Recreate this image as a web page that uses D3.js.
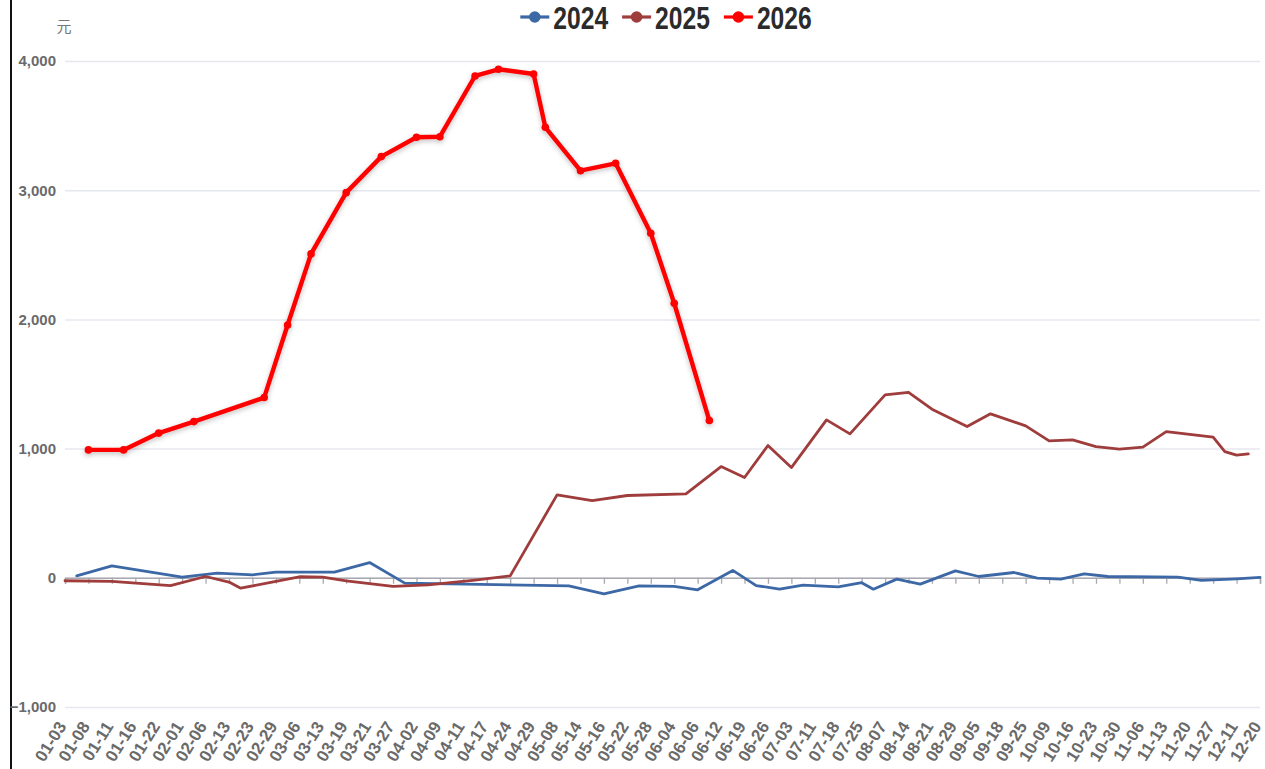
<!DOCTYPE html>
<html>
<head>
<meta charset="utf-8">
<script src="https://cdn.jsdelivr.net/npm/d3@7/dist/d3.min.js"></script>
<style>
    html, body { margin: 0; padding: 0; background: #fff; overflow: hidden; }
    svg { display: block; font-family: "Liberation Sans", Arial, sans-serif; }
</style>
</head>
<body>
<div id="chart"></div>
<script>
// Dates shown on the x axis; the axis has one unlabelled slot between each pair
const tickLabels = [
    "01-03", "01-08", "01-11", "01-16", "01-22", "02-01", "02-06", "02-13", "02-23", "02-29",
    "03-06", "03-13", "03-19", "03-21", "03-27", "04-02", "04-09", "04-11", "04-17", "04-24",
    "04-29", "05-08", "05-14", "05-16", "05-22", "05-28", "06-04", "06-06", "06-12", "06-19",
    "06-26", "07-03", "07-11", "07-18", "07-25", "08-07", "08-14", "08-21", "08-29", "09-05",
    "09-18", "09-25", "10-09", "10-16", "10-23", "10-30", "11-06", "11-13", "11-20", "11-27",
    "12-11", "12-20"
];
const slotCount = tickLabels.length * 2 - 1;

const seriesNames = ["2024", "2025", "2026"];
const yTicks = [-1000, 0, 1000, 2000, 3000, 4000];
const unitLabel = "元";

// [axis slot, value in 元]
const values2024 = [
    [1, 15], [4, 93], [10, 5], [13, 36], [16, 23], [18, 44], [23, 44], [26, 118], [29, -41],
    [43, -62], [46, -124], [49, -62], [52, -67], [54, -93], [57, 57], [59, -60], [61, -88],
    [63, -57], [66, -70], [68, -38], [69, -88], [71, -10], [73, -49], [76, 54], [78, 10],
    [81, 41], [83, -3], [85, -10], [87, 31], [89, 10], [95, 5], [97, -20], [100, -8], [102, 3]
];
const values2025 = [
    [0, -23], [4, -28], [9, -60], [12, 10], [14, -33], [15, -80], [18, -28], [20, 8], [22, 5],
    [24, -23], [28, -67], [31, -54], [35, -18], [38, 15], [42, 642], [45, 598], [48, 637],
    [53, 650], [56, 861], [58, 776], [60, 1024], [62, 853], [65, 1222], [67, 1114], [70, 1416],
    [72, 1436], [74, 1305], [77, 1171], [79, 1269], [82, 1176], [84, 1060], [86, 1068],
    [88, 1016], [90, 996], [92, 1011], [94, 1132], [96, 1110], [98, 1088], [99, 977],
    [100, 949], [101, 959]
];
const values2026 = [
    [2, 990], [5, 990], [8, 1120], [11, 1209], [17, 1395], [19, 1957], [21, 2507], [24, 2981],
    [27, 3260], [30, 3410], [32, 3414], [35, 3884], [37, 3936], [40, 3899], [41, 3487],
    [44, 3151], [47, 3208], [50, 2667], [52, 2125], [55, 1217]
];

const series = [
    { name: seriesNames[0], values: values2024, color: "#3d68a6", width: 2.8, marker: false },
    { name: seriesNames[1], values: values2025, color: "#9e3d3b", width: 2.8, marker: false },
    { name: seriesNames[2], values: values2026, color: "#ff0000", width: 4.4, marker: true }
];

const width = 1265, height = 769;
const plot = { left: 65, right: 1260, top: 61, bottom: 707 };

const svg = d3.select("#chart").append("svg")
    .attr("width", width)
    .attr("height", height);

const defs = svg.append("defs");
defs.append("filter")
    .attr("id", "glow")
    .attr("x", "-10%").attr("y", "-10%").attr("width", "120%").attr("height", "120%")
    .append("feDropShadow")
    .attr("dx", 0).attr("dy", 2).attr("stdDeviation", 2.5)
    .attr("flood-color", "#000").attr("flood-opacity", 0.25);

const x = d3.scaleLinear().domain([0, slotCount - 1]).range([plot.left, plot.right]);
const y = d3.scaleLinear().domain([-1000, 4000]).range([plot.bottom, plot.top]);

// frame edge on the left
svg.append("line")
    .attr("x1", 11).attr("x2", 11).attr("y1", 0).attr("y2", height)
    .attr("stroke", "#111").attr("stroke-width", 2);

// horizontal grid + y labels
const yAxis = d3.axisLeft(y)
    .tickValues(yTicks)
    .tickSize(-(plot.right - plot.left))
    .tickPadding(9)
    .tickFormat(d3.format(","));

svg.append("g")
    .attr("transform", `translate(${plot.left},0)`)
    .call(yAxis)
    .call(g => g.select(".domain").remove())
    .call(g => g.selectAll(".tick line").attr("stroke", "#e6e8f0").attr("stroke-width", 1.5))
    .call(g => g.selectAll(".tick text")
        .attr("fill", "#6a6a6a")
        .attr("font-size", 15)
        .attr("font-weight", "bold")
        .attr("x", -9));

svg.append("text")
    .attr("x", 64).attr("y", 32)
    .attr("text-anchor", "middle")
    .attr("fill", "#777")
    .attr("font-size", 15)
    .attr("font-family", "'Noto Sans CJK SC', sans-serif")
    .text(unitLabel);

// axis line at zero with ticks on labelled slots
const labelSlots = tickLabels.map((d, i) => i * 2);
const xAxis = d3.axisBottom(x)
    .tickValues(labelSlots)
    .tickSize(6)
    .tickFormat("");

svg.append("g")
    .attr("transform", `translate(0,${y(0)})`)
    .call(xAxis)
    .call(g => g.select(".domain").attr("stroke", "#a8a8b0").attr("stroke-width", 1.5))
    .call(g => g.selectAll(".tick line").attr("stroke", "#a8a8b0").attr("stroke-width", 1.3));

// date labels along the bottom
svg.append("g")
    .selectAll("text")
    .data(tickLabels)
    .join("text")
    .attr("transform", (d, i) => `translate(${x(i * 2) - 3},${plot.bottom + 16}) rotate(-58)`)
    .attr("text-anchor", "end")
    .attr("dy", "0.35em")
    .attr("fill", "#6a6a6a")
    .attr("font-size", 17)
    .attr("font-weight", "bold")
    .text(d => d);

// series lines
const line = d3.line()
    .x(d => x(d[0]))
    .y(d => y(d[1]));

series.forEach(s => {
    const g = svg.append("g");
    if (s.marker) g.attr("filter", "url(#glow)");
    g.append("path")
        .datum(s.values)
        .attr("fill", "none")
        .attr("stroke", s.color)
        .attr("stroke-width", s.width)
        .attr("stroke-linejoin", "round")
        .attr("stroke-linecap", "round")
        .attr("d", line);
    if (s.marker) {
        g.selectAll("circle")
            .data(s.values)
            .join("circle")
            .attr("cx", d => x(d[0]))
            .attr("cy", d => y(d[1]))
            .attr("r", 3.8)
            .attr("fill", s.color);
    }
});

// legend (text squeezed to match the narrow bold face of the original)
const squeeze = 0.77;
const legend = svg.append("g").attr("transform", "translate(0,17)");
const items = legend.selectAll("g")
    .data(series)
    .join("g");

items.append("line")
    .attr("x1", 0).attr("x2", 29)
    .attr("stroke", d => d.color)
    .attr("stroke-width", 3.2);
items.append("circle")
    .attr("cx", 14.5)
    .attr("r", 5.8)
    .attr("fill", d => d.color);
items.append("text")
    .attr("transform", `translate(33,0) scale(${squeeze},1)`)
    .attr("dy", "0.36em")
    .attr("fill", "#2b2b2b")
    .attr("font-weight", "bold")
    .attr("font-size", 32)
    .text(d => d.name);

const itemWidths = [];
items.each(function () {
    itemWidths.push(this.querySelector("text").getComputedTextLength() * squeeze + 33);
});
const gap = 14;
const total = d3.sum(itemWidths) + gap * (itemWidths.length - 1);
let offset = 666 - total / 2;
items.attr("transform", (d, i) => {
    const t = `translate(${offset},0)`;
    offset += itemWidths[i] + gap;
    return t;
});
</script>
</body>
</html>
